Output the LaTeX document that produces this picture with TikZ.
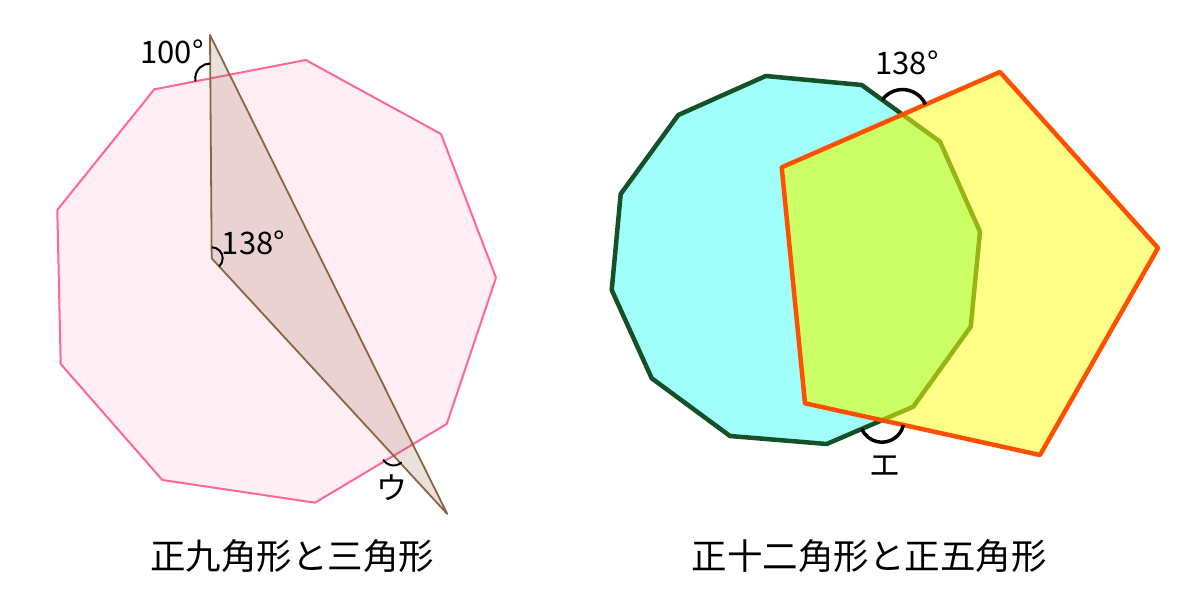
\documentclass[tikz,border=0pt]{standalone}
\usepackage{fontspec}
\setmainfont{Noto Sans CJK JP}
\newfontfamily\jfont{Noto Sans CJK JP}
\definecolor{nonafill}{RGB}{255,238,244}
\definecolor{nonaline}{RGB}{255,102,153}
\definecolor{tribrown}{RGB}{140,100,65}
\definecolor{trifill}{RGB}{150,100,80}
\definecolor{dodefill}{RGB}{160,255,250}
\definecolor{dodeline}{RGB}{20,80,40}
\definecolor{pentfill}{RGB}{255,255,136}
\definecolor{pentline}{RGB}{255,80,0}
\definecolor{overfill}{RGB}{204,255,102}
\definecolor{overline}{RGB}{150,180,20}
\tikzset{
  anglabel/.style={font=\jfont\fontsize{31bp}{34bp}\selectfont, inner sep=0pt},
  caption/.style={font=\jfont\fontsize{35.5bp}{39bp}\selectfont, inner sep=0pt},
  thinarc/.style={draw=black, line width=2bp},
  thickarc/.style={draw=black, line width=3.5bp},
}
\begin{document}
\begin{tikzpicture}[x=1bp,y=-1bp, line join=round]
\useasboundingbox[fill=white] (0,0) rectangle (1200,606);
% ---------- left figure ----------
\path[fill=nonafill, draw=nonaline, line width=2bp]
  (154.3,89.3) -- (305.7,60) -- (441,134) -- (496,277.7) -- (446.7,424)
  -- (315,502.7) -- (162.3,480) -- (60.7,364) -- (57.3,210) -- cycle;
\path[fill=trifill, fill opacity=0.2] (210,35) -- (211.7,258.3) -- (447.3,514) -- cycle;
\draw[tribrown, line width=1.8bp] (210,35) -- (211.7,258.3) -- (447.3,514) -- cycle;
% angle arcs (angles negated because the y axis points down)
\coordinate (a1) at (210.2,78.5);
\draw[thinarc] ([shift={(-191:15)}]a1) arc[start angle=-191, end angle=-90, radius=15];
\coordinate (a2) at (211.7,258.3);
\draw[thinarc] ([shift={(-90:11)}]a2) arc[start angle=-90, end angle=47, radius=11];
\coordinate (a3) at (393.5,453.5);
\draw[thinarc] ([shift={(47.3:12)}]a3) arc[start angle=47.3, end angle=149, radius=12];
\node[anglabel] (l100) at (172,52) {100°};
\node[anglabel] (l138a) at (253.5,243) {138°};
\node[anglabel] (lu) at (392,488) {ウ};
\node[caption] (c1) at (292,556) {正九角形と三角形};
% ---------- right figure ----------
\def\dodec{(765.7,76) -- (861.7,85) -- (940,141.7) -- (980,231.7) -- (970.7,326.7)
  -- (913.3,406.7) -- (826.7,444) -- (730,436) -- (651.7,378.3) -- (611.7,290)
  -- (620.7,194) -- (678.3,115) -- cycle}
\def\pent{(1000,72) -- (1158,248) -- (1040,455) -- (805,403.3) -- (781.7,167.3) -- cycle}
\path[fill=dodefill] \dodec;
\draw[dodeline, line width=4.5bp] \dodec;
\path[fill=pentfill] \pent;
\begin{scope}
  \clip \pent;
  \path[fill=overfill] \dodec;
  \draw[overline, line width=4.5bp] \dodec;
\end{scope}
\draw[pentline, line width=4.5bp] \pent;
\coordinate (b1) at (902.5,114.5);
\draw[thickarc] ([shift={(-144.1:25)}]b1) arc[start angle=-144.1, end angle=-23.6, radius=25];
\coordinate (b2) at (881.9,420.2);
\draw[thickarc] ([shift={(12.4:22)}]b2) arc[start angle=12.4, end angle=156.7, radius=22];
\node[anglabel] (l138b) at (907,63) {138°};
\node[anglabel] (le) at (885,466) {エ};
\node[caption] (c2) at (869,556) {正十二角形と正五角形};
\end{tikzpicture}
\end{document}
